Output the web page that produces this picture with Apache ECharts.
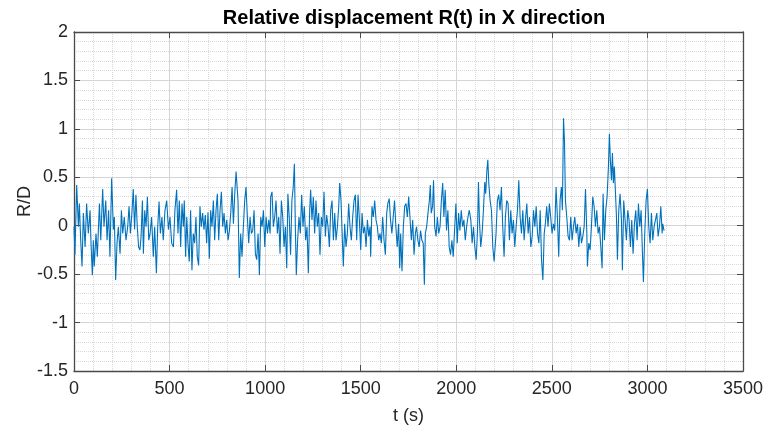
<!DOCTYPE html>
<html>
<head>
<meta charset="utf-8">
<script src="https://cdn.jsdelivr.net/npm/echarts@6/dist/echarts.min.js"></script>
<style>
html,body{margin:0;padding:0;background:#fff;}
#c{width:768px;height:430px;}
</style>
</head>
<body>
<div id="c"></div>
<script>
// Data: [t (s), R/D]
var part1 = [[0,-0.01],[5,-0.30],[14,0.42],[23,-0.01],[28,0.23],[35,-0.15],[42,-0.42],[49,0.13],[58,-0.22],[66,0.23],[75,-0.08],[84,0.16],[89,-0.18],[96,-0.51],[101,-0.15],[106,-0.42],[115,-0.08],[122,-0.32],[133,0.23],[140,-0.15],[150,0.38],[157,-0.01],[166,0.26],[173,-0.15],[181,0.16],[188,-0.32],[197,0.49],[206,-0.04],[211,0.09],[218,-0.56],[225,-0.18],[232,-0.01],[241,-0.29],[248,0.16],[255,-0.08],[263,0.09],[272,-0.15],[281,-0.01],[288,0.20],[295,-0.08],[303,0.13],[310,0.38],[317,-0.04],[324,0.32],[331,-0.01],[338,-0.22],[345,-0.25],[351,-0.11],[358,0.26],[363,-0.29],[370,0.16],[377,-0.01],[384,0.30],[391,-0.15],[398,-0.08],[406,0.09],[415,-0.32],[422,-0.01],[431,-0.49],[438,-0.01],[445,0.25],[452,-0.08],[460,0.09],[467,-0.15],[476,0.16],[485,0.26],[494,-0.04],[502,0.09]];
var part2 = [[511,-0.18],[520,-0.22],[528,0.16],[537,0.37],[544,-0.08],[551,0.26],[558,-0.22],[565,0.23],[572,-0.01],[577,0.26],[584,-0.32],[590,0.09],[596,-0.18],[603,-0.37],[610,0.16],[617,-0.46],[624,-0.08],[631,-0.18],[638,0.09],[645,-0.32],[652,-0.41],[659,0.20],[666,-0.01],[673,0.13],[680,-0.04],[687,0.11],[694,-0.18],[701,0.14],[708,-0.34],[715,0.16],[722,-0.01],[729,0.26],[736,-0.15],[743,0.16],[750,0.33],[757,-0.15],[764,0.16],[771,0.35],[778,-0.01],[785,0.13],[792,-0.08],[799,0.06],[806,-0.15],[813,-0.05],[820,0.13],[827,0.40],[834,0.02],[841,0.33],[848,0.56],[853,0.56],[858,0.26],[865,-0.54],[872,-0.08],[879,-0.32],[886,-0.01],[893,0.26],[900,0.40],[907,0.09],[914,-0.18],[921,0.09],[928,-0.08],[935,-0.05],[942,0.16],[949,-0.29],[956,-0.35],[963,-0.08],[970,-0.51],[977,0.09],[984,-0.01],[991,0.16],[998,-0.22],[1005,0.09],[1012,-0.08],[1019,0.06],[1026,-0.08]];
var part3 = [[1029,0.30],[1036,0.35],[1043,-0.01],[1050,0.09],[1057,0.26],[1064,-0.08],[1071,0.09],[1078,-0.29],[1085,0.26],[1092,0.09],[1099,-0.22],[1106,-0.01],[1113,-0.44],[1119,0.33],[1126,0.09],[1133,-0.30],[1140,0.26],[1147,0.40],[1153,0.64],[1158,-0.01],[1163,-0.51],[1170,-0.15],[1177,0.09],[1184,-0.08],[1191,0.32],[1198,-0.01],[1205,0.20],[1212,-0.15],[1219,-0.01],[1226,-0.49],[1233,0.16],[1238,0.37],[1245,0.06],[1252,0.30],[1259,-0.08],[1266,0.26],[1273,-0.01],[1280,0.13],[1287,-0.30],[1294,0.09],[1301,-0.01],[1308,0.35],[1315,-0.11],[1322,0.11],[1329,-0.01],[1336,-0.22],[1343,0.16],[1350,0.26],[1357,-0.15],[1364,0.13],[1371,-0.15],[1378,-0.01],[1385,0.20],[1390,0.44],[1397,0.26],[1404,-0.15],[1409,-0.42],[1416,0.02],[1423,-0.22],[1430,-0.08],[1437,0.23],[1444,-0.01],[1451,-0.15],[1458,0.09],[1465,0.26],[1472,0.32],[1479,-0.15],[1486,0.32],[1493,0.06],[1500,-0.25],[1507,0.13],[1514,-0.08],[1521,-0.01],[1528,-0.22],[1535,0.06],[1542,-0.11],[1549,-0.01]];
var part4 = [[1552,-0.32],[1559,0.20],[1566,0.09],[1573,0.26],[1580,0.06],[1587,-0.01],[1594,-0.15],[1601,-0.08],[1608,-0.18],[1615,0.09],[1622,-0.15],[1629,-0.30],[1636,0.13],[1642,0.23],[1649,0.28],[1656,0.06],[1663,-0.08],[1670,0.09],[1677,0.26],[1684,-0.01],[1691,-0.22],[1698,0.02],[1704,-0.44],[1709,-0.08],[1716,-0.47],[1723,-0.01],[1730,0.20],[1737,0.23],[1744,0.09],[1751,0.30],[1758,0.32],[1765,-0.15],[1772,0.06],[1779,-0.30],[1786,-0.08],[1792,-0.01],[1799,-0.15],[1806,-0.22],[1813,-0.05],[1820,-0.15],[1827,-0.18],[1833,-0.61],[1838,-0.08],[1845,-0.01],[1852,0.13],[1859,0.26],[1864,0.42],[1869,0.13],[1876,0.20],[1881,0.47],[1887,-0.01],[1894,-0.11],[1901,0.09],[1908,-0.08],[1915,-0.01],[1922,0.26],[1929,0.44],[1935,0.09],[1942,0.37],[1949,-0.05],[1956,0.16],[1963,-0.22],[1970,-0.30],[1977,-0.15],[1984,-0.32],[1991,-0.05],[1998,0.23],[2005,-0.18],[2012,0.13],[2019,-0.05],[2026,0.16],[2033,-0.01],[2040,0.06],[2047,-0.15],[2054,-0.01],[2061,0.09],[2068,0.16]];
var part5 = [[2076,0.06],[2083,-0.18],[2090,-0.01],[2097,-0.22],[2104,-0.35],[2111,-0.05],[2116,0.45],[2121,0.06],[2128,-0.22],[2135,-0.08],[2142,0.16],[2149,0.45],[2154,0.33],[2160,0.57],[2165,0.68],[2170,0.44],[2177,0.26],[2184,0.16],[2191,-0.22],[2198,-0.37],[2203,-0.39],[2208,-0.08],[2215,0.26],[2222,0.32],[2229,0.16],[2236,0.40],[2243,-0.01],[2250,-0.32],[2257,0.09],[2264,0.26],[2271,0.23],[2278,-0.15],[2285,0.16],[2292,-0.08],[2299,0.06],[2306,-0.22],[2313,-0.01],[2320,0.16],[2327,0.47],[2334,0.09],[2341,-0.08],[2348,0.16],[2355,-0.15],[2362,0.06],[2369,0.23],[2376,-0.08],[2383,0.09],[2390,-0.22],[2397,-0.11],[2404,0.16],[2411,-0.01],[2418,0.20],[2425,-0.08],[2432,-0.18],[2439,0.16],[2446,-0.35],[2453,-0.56],[2460,-0.08],[2466,0.02],[2473,0.20],[2480,-0.01],[2487,0.23],[2494,0.09],[2501,-0.08],[2508,0.02],[2515,-0.05],[2522,0.40],[2529,0.09],[2536,-0.32],[2543,0.26],[2550,0.40],[2555,0.16],[2561,1.11],[2566,0.88],[2571,0.26],[2578,0.09],[2585,-0.11],[2592,-0.15]];
var part6 = [[2599,0.09],[2606,-0.15],[2613,-0.01],[2620,0.09],[2627,-0.08],[2634,0.02],[2641,-0.22],[2648,-0.01],[2655,-0.18],[2662,-0.11],[2669,-0.01],[2676,0.38],[2683,-0.08],[2686,-0.42],[2693,-0.18],[2700,-0.25],[2707,-0.01],[2714,0.30],[2721,0.20],[2728,-0.01],[2735,0.16],[2742,-0.08],[2749,-0.01],[2756,-0.22],[2763,-0.44],[2768,0.33],[2775,-0.15],[2782,0.16],[2789,0.30],[2796,0.61],[2801,0.95],[2806,0.68],[2812,0.47],[2817,0.75],[2822,0.44],[2827,0.61],[2833,0.33],[2838,0.09],[2843,-0.35],[2850,0.16],[2857,0.33],[2864,0.06],[2869,-0.46],[2876,0.26],[2883,0.06],[2890,-0.15],[2897,0.16],[2904,0.06],[2911,-0.22],[2918,0.06],[2925,-0.29],[2932,0.02],[2939,0.16],[2946,-0.15],[2953,0.23],[2960,-0.01],[2967,0.16],[2974,-0.29],[2979,-0.58],[2986,-0.08],[2993,0.26],[3000,0.38],[3007,-0.01],[3014,-0.18],[3021,0.13],[3028,-0.15],[3035,-0.01],[3042,0.06],[3049,0.13],[3056,-0.11],[3063,-0.01],[3070,0.20],[3077,-0.08],[3080,0.02],[3087,-0.05]];

var titleText = 'Relative displacement R(t) in X direction';
var xName = 't (s)';
var yName = 'R/D';

var series = part1.concat(part2, part3, part4, part5, part6);

var axisColor = '#262626';
var frameColor = '#4a4a4a';
var font = 'Liberation Sans, Arial, Helvetica, sans-serif';
var majorGrid = {show: true, lineStyle: {color: '#d4d4d4', width: 1, type: 'solid'}};
var minorGrid = {show: true, lineStyle: {color: '#d9d9d9', width: 1, type: [1, 1]}};
function plain(v) { return String(v); }

var chart = echarts.init(document.getElementById('c'), null, {renderer: 'canvas'});
chart.setOption({
  animation: false,
  backgroundColor: '#ffffff',
  title: {
    text: titleText, left: 409, top: 3, textAlign: 'center',
    textStyle: {fontFamily: font, fontSize: 20, fontWeight: 'bold', color: '#000'}
  },
  grid: {left: 74, right: 25, top: 32, bottom: 59, containLabel: false},
  xAxis: [{
    type: 'value', min: 0, max: 3500, interval: 500,
    name: xName, nameLocation: 'middle', nameGap: 36, nameMoveOverlap: false,
    nameTextStyle: {fontFamily: font, fontSize: 18, color: axisColor},
    axisLine: {show: true, onZero: false, lineStyle: {color: frameColor, width: 1.3}},
    axisTick: {show: true, inside: true, length: 6, lineStyle: {color: frameColor}},
    axisLabel: {fontFamily: font, fontSize: 18, color: axisColor, margin: 9, formatter: plain},
    splitLine: majorGrid,
    minorTick: {show: false, splitNumber: 5},
    minorSplitLine: minorGrid
  }, {
    type: 'value', position: 'top', min: 0, max: 3500, interval: 500,
    axisLine: {show: true, onZero: false, lineStyle: {color: frameColor, width: 1.3}},
    axisTick: {show: true, inside: true, length: 6, lineStyle: {color: frameColor}},
    axisLabel: {show: false}, splitLine: {show: false}
  }],
  yAxis: [{
    type: 'value', min: -1.5, max: 2, interval: 0.5,
    name: yName, nameLocation: 'middle', nameGap: 40, nameMoveOverlap: false,
    nameTextStyle: {fontFamily: font, fontSize: 18, color: axisColor},
    axisLine: {show: true, onZero: false, lineStyle: {color: frameColor, width: 1.3}},
    axisTick: {show: true, inside: true, length: 6, lineStyle: {color: frameColor}},
    axisLabel: {fontFamily: font, fontSize: 18, color: axisColor, margin: 6, formatter: plain},
    splitLine: majorGrid,
    minorTick: {show: false, splitNumber: 5},
    minorSplitLine: minorGrid
  }, {
    type: 'value', position: 'right', min: -1.5, max: 2, interval: 0.5,
    axisLine: {show: true, onZero: false, lineStyle: {color: frameColor, width: 1.3}},
    axisTick: {show: true, inside: true, length: 6, lineStyle: {color: frameColor}},
    axisLabel: {show: false}, splitLine: {show: false}
  }],
  series: [{
    type: 'line', xAxisIndex: 0, yAxisIndex: 0,
    data: series, showSymbol: false, symbol: 'none',
    lineStyle: {color: '#0072BD', width: 1.1},
    itemStyle: {color: '#0072BD'}
  }]
});
</script>
</body>
</html>
